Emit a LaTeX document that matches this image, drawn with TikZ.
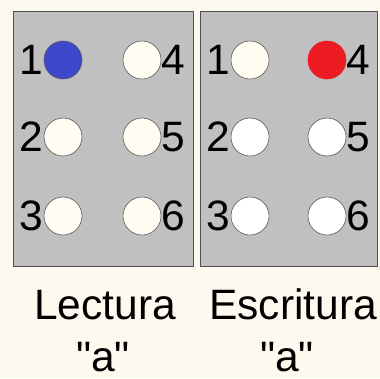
\documentclass[tikz,border=0pt]{standalone}
\usepackage{fontspec}
\setmainfont{Liberation Sans}[Ligatures=TeXOff]
\definecolor{bgcream}{HTML}{FDF9EE}
\definecolor{boxgray}{HTML}{C0C0C0}
\definecolor{boxedge}{HTML}{505050}
\definecolor{dotcream}{HTML}{FFFDF2}
\definecolor{dotblue}{HTML}{3F48CC}
\definecolor{dotred}{HTML}{ED1C24}
\begin{document}
\begin{tikzpicture}[x=1pt,y=-1pt,
  cell/.style={draw=boxedge,fill=boxgray,line width=1pt},
  dot/.style={circle,draw=black!65,line width=0.6pt,minimum size=38pt,inner sep=0pt},
  num/.style={inner sep=0pt,font=\fontsize{42.5}{48}\selectfont},
  lbl/.style={inner sep=0pt,anchor=base,font=\fontsize{42.5}{48}\selectfont}]
\fill[bgcream] (0,0) rectangle (380,378);
\useasboundingbox (0,0) rectangle (380,378);
% left cell
\draw[cell] (13,11) rectangle (193,266);
\node[dot,fill=dotblue] (l1) at (63,60) {};
\node[dot,fill=dotcream] (l2) at (63,137) {};
\node[dot,fill=dotcream] (l3) at (63,216) {};
\node[dot,fill=dotcream] (l4) at (142,60) {};
\node[dot,fill=dotcream] (l5) at (142,137) {};
\node[dot,fill=dotcream] (l6) at (142,216) {};
\node[num,anchor=east] (ln1) at (l1.west) {1};
\node[num,anchor=east] (ln2) at (l2.west) {2};
\node[num,anchor=east] (ln3) at (l3.west) {3};
\node[num,anchor=west] (ln4) at (l4.east) {4};
\node[num,anchor=west] (ln5) at (l5.east) {5};
\node[num,anchor=west] (ln6) at (l6.east) {6};
% right cell
\draw[cell] (200,11) rectangle (377,266);
\node[dot,fill=dotcream] (r1) at (250,60) {};
\node[dot,fill=white] (r2) at (250,137) {};
\node[dot,fill=white] (r3) at (250,216) {};
\node[dot,fill=dotred,draw=dotred] (r4) at (327,60) {};
\node[dot,fill=white] (r5) at (327,137) {};
\node[dot,fill=white] (r6) at (327,216) {};
\node[num,anchor=east] (rn1) at (r1.west) {1};
\node[num,anchor=east] (rn2) at (r2.west) {2};
\node[num,anchor=east] (rn3) at (r3.west) {3};
\node[num,anchor=west] (rn4) at (r4.east) {4};
\node[num,anchor=west] (rn5) at (r5.east) {5};
\node[num,anchor=west] (rn6) at (r6.east) {6};
% labels
\node[lbl] (lt1) at (105,319) {Lectura};
\node[lbl] (lt2) at (103,371) {"a"};
\node[lbl] (rt1) at (293,319) {Escritura};
\node[lbl] (rt2) at (287,371) {"a"};
\end{tikzpicture}
\end{document}
